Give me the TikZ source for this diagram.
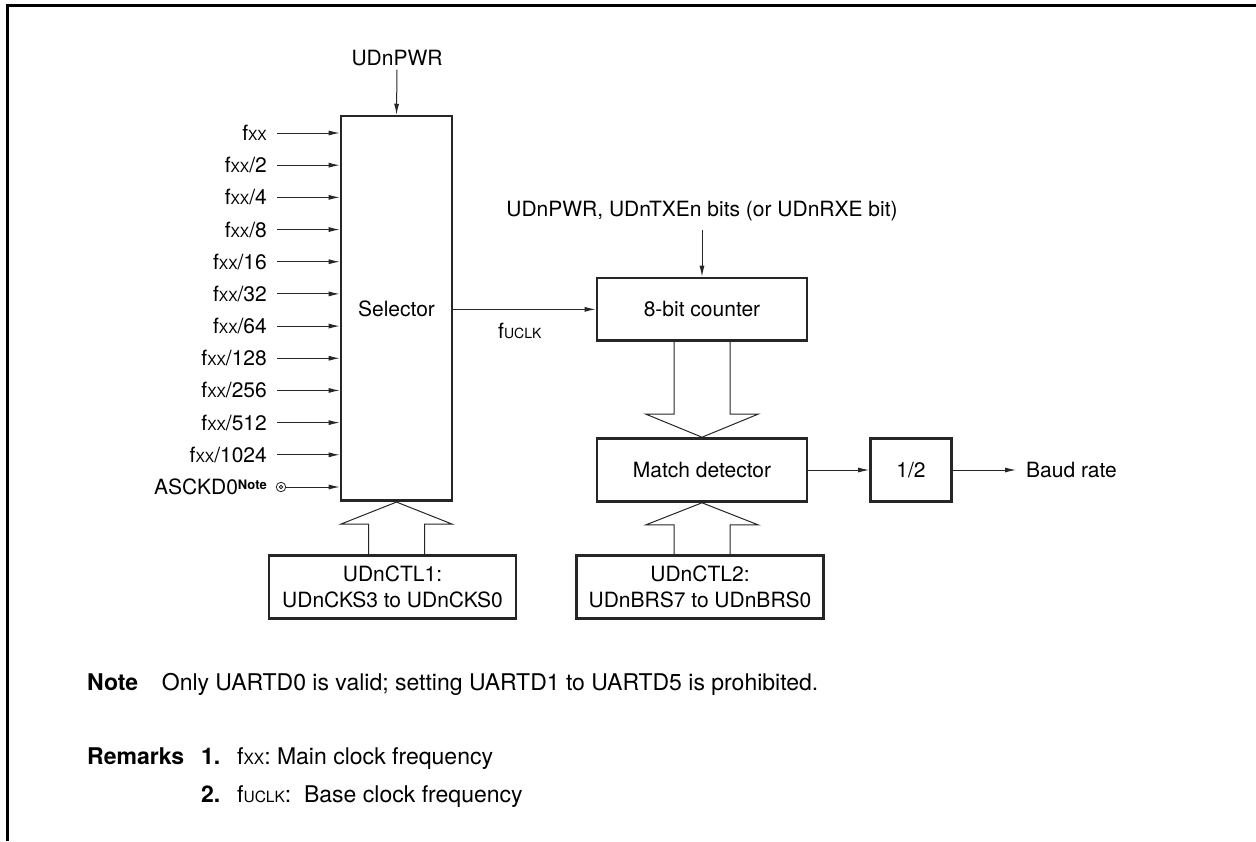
\documentclass[tikz,border=0pt]{standalone}
\usepackage{fontspec}
\setmainfont{TeX Gyre Heros}
\usetikzlibrary{arrows.meta,calc}
\newcommand\smc[1]{{\fontsize{14}{14}\selectfont #1}}
\newcommand\smn[1]{{\fontsize{15.5}{15.5}\selectfont #1}}
\begin{document}
\begin{tikzpicture}[x=1pt,y=-1pt,
  font=\fontsize{21}{26}\selectfont,
  box/.style={draw=black!85, line width=2.6pt, inner sep=0, align=center},
  ar/.style={draw=black!85, -{Latex[length=11pt,width=5pt]}, line width=1pt},
  hol/.style={draw=black!85, line width=1pt},
  lab/.style={anchor=east, inner sep=0, text height=15pt, text depth=0pt},
  txt/.style={inner sep=0},
  notef/.style={font=\fontsize{23}{28}\selectfont},
  noteb/.style={font=\bfseries\fontsize{23}{28}\selectfont}]
\useasboundingbox (0,0) rectangle (1256,841);
% frame
\draw[line width=3pt, line join=miter] (7.5,841) -- (7.5,5) -- (1256,5);

% boxes
\node[box, minimum width=111pt, minimum height=384.7pt] (sel) at (396.5,308.4) {Selector};
\node[box, minimum width=210pt, minimum height=62.7pt] (cnt) at (702,309.35) {8-bit counter};
\node[box, minimum width=210pt, minimum height=63pt] (md) at (702,470) {Match detector};
\node[box, minimum width=81pt, minimum height=63pt] (half) at (911,470) {1/2};
\node[box, minimum width=247pt, minimum height=63pt] (ctl1) at (392.5,587) {UDnCTL1:\\UDnCKS3 to UDnCKS0};
\node[box, minimum width=247pt, minimum height=63pt] (ctl2) at (700,587) {UDnCTL2:\\UDnBRS7 to UDnBRS0};

% top labels
\node[txt] (pwr) at (397,58) {UDnPWR};
\draw[ar] ([yshift=-3.5pt]pwr.south) -- (sel.north);
\node[txt, anchor=base] (cl) at (702,216.7) {UDnPWR, UDnTXEn bits (or UDnRXE bit)};
\draw[ar] ([yshift=-9pt]cl.south) -- (cnt.north);

% inputs
\foreach \t [count=\i from 0] in {f\smc{XX}, f\smc{XX}/2, f\smc{XX}/4, f\smc{XX}/8, f\smc{XX}/16, f\smc{XX}/32, f\smc{XX}/64, f\smc{XX}/128, f\smc{XX}/256, f\smc{XX}/512, f\smc{XX}/1024} {
  \node[lab] (in\i) at (267,{133+32.18*\i}) {\t};
  \draw[ar] ([xshift=10pt]in\i.east) -- (sel.west |- in\i.east);
}
\node[lab] (in11) at (267,487) {ASCKD0\raisebox{5.5pt}{\fontsize{13}{13}\selectfont\bfseries Note}};
\node[circle, draw=black!85, line width=0.8pt, minimum size=9.5pt, inner sep=0] (pin) at (281,487) {};
\draw[line width=0.8pt, black!85] (pin.center) circle (1.8pt);
\draw[ar] (pin.east) -- (sel.west |- pin.east);

% selector -> counter
\draw[ar] (sel.east |- cnt.west) -- (cnt.west);
\node[txt, anchor=base west] (fu) at (498,338) {f\smc{UCLK}};

% match -> 1/2 -> baud
\node[txt, anchor=west] (baud) at (1026,470) {Baud rate};
\draw[ar] (md.east) -- (half.west);
\draw[ar] (half.east) -- ([xshift=-10pt]baud.west);

% hollow arrows
\draw[hol] ($(sel.south|-ctl1.north)+(-28,0)$) -- ($(sel.south)+(-28,22)$) -- ($(sel.south)+(-55.5,22)$) -- (sel.south) -- ($(sel.south)+(55.5,22)$) -- ($(sel.south)+(28,22)$) -- ($(sel.south|-ctl1.north)+(28,0)$);
\draw[hol] ($(cnt.south)+(-28,0)$) -- ($(md.north)+(-28,-23)$) -- ($(md.north)+(-56,-23)$) -- (md.north) -- ($(md.north)+(56,-23)$) -- ($(md.north)+(28,-23)$) -- ($(cnt.south)+(28,0)$);
\draw[hol] ($(md.south|-ctl2.north)+(-28,0)$) -- ($(md.south)+(-28,22)$) -- ($(md.south)+(-56,22)$) -- (md.south) -- ($(md.south)+(56,22)$) -- ($(md.south)+(28,22)$) -- ($(md.south|-ctl2.north)+(28,0)$);

% notes
\node[txt, anchor=base west, noteb] (note) at (87,690) {Note};
\node[txt, anchor=base west, notef] (notet) at (161.7,690) {Only UARTD0 is valid; setting UARTD1 to UARTD5 is prohibited.};
\node[txt, anchor=base west, noteb] (rem) at (87,764) {Remarks};
\node[txt, anchor=base west, noteb] (r1) at (201,764) {1.};
\node[txt, anchor=base west, notef] (r1t) at (237,764) {f\smn{XX}: Main clock frequency};
\node[txt, anchor=base west, noteb] (r2) at (201,802) {2.};
\node[txt, anchor=base west, notef] (r2t) at (237,802) {f\smn{UCLK}:\ \ Base clock frequency};
\end{tikzpicture}
\end{document}
